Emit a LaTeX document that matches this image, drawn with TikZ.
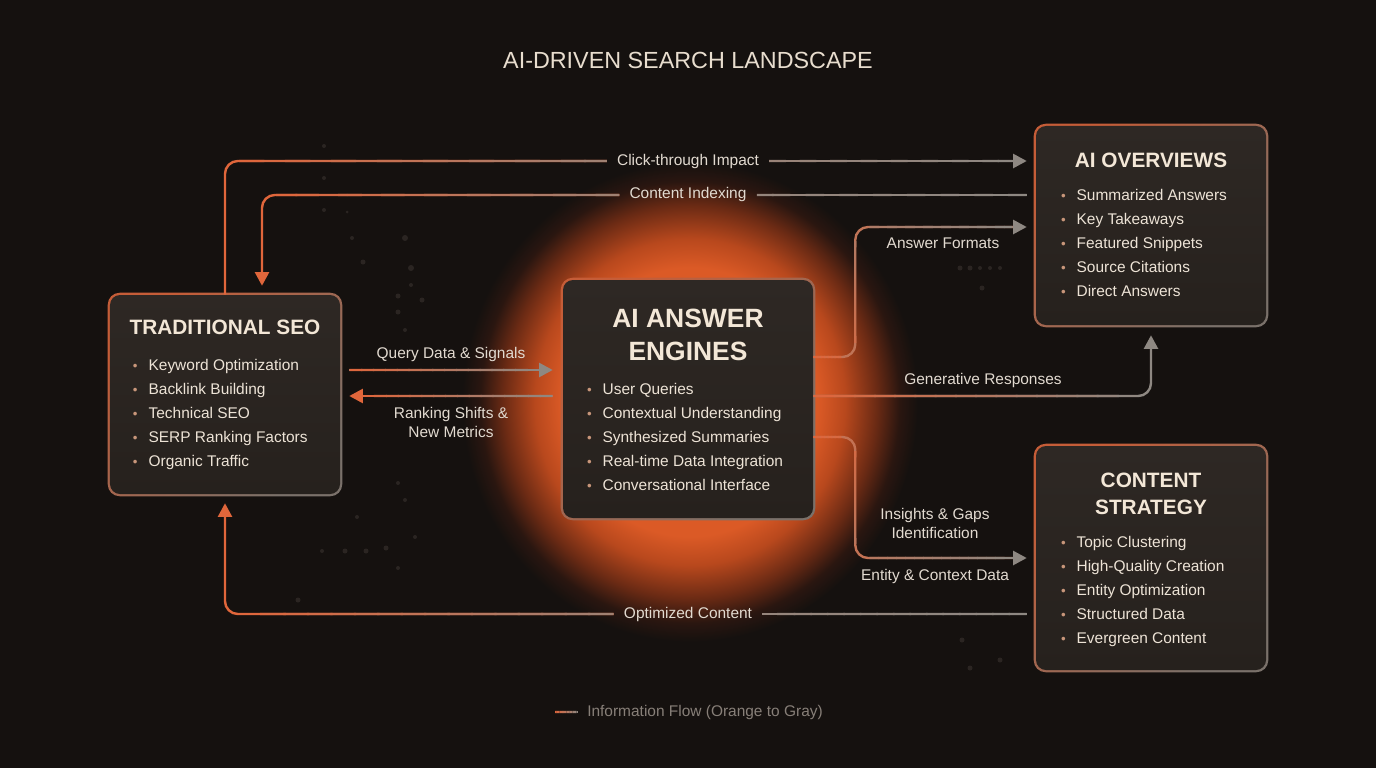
\documentclass[tikz,border=0pt]{standalone}
\usepackage{fontspec}
\setmainfont{Liberation Sans}
\usetikzlibrary{arrows.meta, calc, positioning}

\definecolor{bgc}{HTML}{15110F}
\definecolor{boxtop}{HTML}{2E2824}
\definecolor{boxbot}{HTML}{26211D}
\definecolor{orng}{HTML}{E0663B}
\definecolor{flowgray}{HTML}{8E8882}
\definecolor{rimgray}{HTML}{7A716A}
\definecolor{titlec}{HTML}{F3E7D7}
\definecolor{textc}{HTML}{EDE3D6}
\definecolor{lblc}{HTML}{E2DAD0}
\definecolor{dotc}{HTML}{C8967A}
\definecolor{legc}{HTML}{877F78}
\definecolor{speck}{HTML}{2B2522}
\definecolor{glowA}{HTML}{DB5A26}
\definecolor{glowB}{HTML}{B8481D}
\definecolor{glowC}{HTML}{6A2A14}
\definecolor{glowD}{HTML}{2A1610}

% path boundary sits at 25bp
\pgfdeclareradialshading{glow}{\pgfpoint{0bp}{0bp}}{%
  color(0bp)=(glowA); color(14bp)=(glowA); color(17bp)=(glowB);
  color(20.5bp)=(glowC); color(23bp)=(glowD); color(25bp)=(bgc); color(50bp)=(bgc)}

\pgfdeclarelayer{back}
\pgfdeclarelayer{frame}
\pgfsetlayers{back,frame,main}

% bullet in front of list items
\newcommand\bul{\makebox[3.9mm][l]{\color{dotc}\fontsize{9.5}{9.5}\selectfont\textbullet}}

% straight stretch going from orange to gray (#3, #4 = % of orange at the ends)
\newcommand\fadeline[4]{%
  \foreach \k in {0,...,15}{%
    \pgfmathtruncatemacro\fpc{#3+(#4-#3)*(\k+0.5)/16}%
    \pgfmathsetmacro\fta{\k/16}%
    \pgfmathsetmacro\ftb{min(1,(\k+1.1)/16)}%
    \draw[flow, draw=orng!\fpc!flowgray] ($(#1)!\fta!(#2)$) -- ($(#1)!\ftb!(#2)$);
  }}

\begin{document}
\begin{tikzpicture}[x=0.25mm, y=-0.25mm,
    flow/.style={line width=0.6mm, rounded corners=3.2mm},
    tipg/.style={-{Triangle[length=3.4mm, width=3.5mm, color=flowgray]}},
    tipo/.style={-{Triangle[length=3.4mm, width=3.5mm, color=orng]}},
    panel/.style={rounded corners=2.5mm, top color=boxtop, bottom color=boxbot,
                  inner sep=0pt},
    boxtitle/.style={font=\bfseries\fontsize{14.8}{18}\selectfont, text=titlec,
                     inner sep=0pt, anchor=base},
    bigtitle/.style={font=\bfseries\fontsize{18.8}{23}\selectfont, text=titlec,
                     inner sep=0pt, anchor=base},
    item/.style={font=\fontsize{11}{13}\selectfont, text=textc, inner sep=0pt,
                 anchor=base west},
    lbl/.style={font=\fontsize{11}{13.5}\selectfont, text=lblc, inner sep=0pt,
                align=center},
    gap/.style={lbl, inner xsep=2.5mm},
  ]

  %% --- background, glow and specks -----------------------------------------
  \begin{pgfonlayer}{back}
    \fill[bgc] (0,0) rectangle (1376,768);
    \shade[shading=glow] (690,402) ellipse [x radius=57mm, y radius=60mm];
    \foreach \x/\y/\r in {324/146/2, 324/178/2, 347/195/1.5, 347/212/1.5, 324/210/2,
                          405/238/3, 411/268/3, 398/296/2.5, 422/300/2.5, 363/262/2.5,
                          352/238/2, 411/285/2, 398/312/2.5, 405/330/2,
                          398/483/2, 405/500/2, 357/517/2, 386/548/2.5, 366/551/2.5,
                          345/551/2.5, 322/551/2, 415/537/2, 398/568/2, 298/600/2.5,
                          960/268/2.5, 970/268/2.5, 980/268/2, 990/268/2, 1000/268/2,
                          982/288/2.5, 968/516/2.5, 978/516/3,
                          962/640/2.5, 970/668/2.5, 1000/660/2.5}
      \fill[speck] (\x,\y) circle [radius=\r*0.25mm];
  \end{pgfonlayer}
  \useasboundingbox (0,0) rectangle (1376,768);

  \node[font=\fontsize{16.6}{20}\selectfont, text=titlec!90!gray, inner sep=0pt,
        anchor=base] (title) at (688,68.5) {AI-DRIVEN SEARCH LANDSCAPE};

  %% --- panels --------------------------------------------------------------
  \node[panel, minimum width=57.5mm, minimum height=49.75mm] (seo)      at (225,394.5) {};
  \node[panel, minimum width=62.5mm, minimum height=59.5mm]  (engine)   at (688,399)   {};
  \node[panel, minimum width=57.5mm, minimum height=49.75mm] (overview) at (1151,225.5) {};
  \node[panel, minimum width=57.5mm, minimum height=56mm]    (strategy) at (1151,558)  {};

  \begin{pgfonlayer}{frame}
    \foreach \bx in {seo, engine, overview, strategy}
      \shade[rounded corners=3mm, top color=orng!85!boxtop, bottom color=rimgray,
             shading angle=45]
        ($(\bx.north west)+(-2,-2)$) rectangle ($(\bx.south east)+(2,2)$);
  \end{pgfonlayer}

  %% --- panel titles --------------------------------------------------------
  \node[boxtitle] (seo-title)       at ($(seo.north)+(0,40)$)      {TRADITIONAL SEO};
  \node[bigtitle] (engine-title1)   at ($(engine.north)+(0,48)$)   {AI ANSWER};
  \node[bigtitle] (engine-title2)   at ($(engine.north)+(0,81)$)   {ENGINES};
  \node[boxtitle] (overview-title)  at ($(overview.north)+(0,42)$) {AI OVERVIEWS};
  \node[boxtitle] (strategy-title1) at ($(strategy.north)+(0,42)$) {CONTENT};
  \node[boxtitle] (strategy-title2) at ($(strategy.north)+(0,69)$) {STRATEGY};

  %% --- panel lists ---------------------------------------------------------
  \foreach \t [count=\i] in {Keyword Optimization, Backlink Building, Technical SEO,
                             SERP Ranking Factors, Organic Traffic}
    \node[item] (seo-\i) at ($(seo.north west)+(23,{75.5+24*(\i-1)})$) {\bul\t};
  \foreach \t [count=\i] in {User Queries, Contextual Understanding, Synthesized Summaries,
                             Real-time Data Integration, Conversational Interface}
    \node[item] (engine-\i) at ($(engine.north west)+(24,{114.5+24*(\i-1)})$) {\bul\t};
  \foreach \t [count=\i] in {Summarized Answers, Key Takeaways, Featured Snippets,
                             Source Citations, Direct Answers}
    \node[item] (overview-\i) at ($(overview.north west)+(25,{75+24*(\i-1)})$) {\bul\t};
  \foreach \t [count=\i] in {Topic Clustering, High-Quality Creation, Entity Optimization,
                             Structured Data, Evergreen Content}
    \node[item] (strategy-\i) at ($(strategy.north west)+(25,{102+24*(\i-1)})$) {\bul\t};

  %% --- connector labels ----------------------------------------------------
  \node[gap] (l-click)   at (688,161)   {Click-through Impact};
  \node[gap] (l-index)   at (688,195)   {Content Indexing};
  \node[gap] (l-opt)     at (688,614)   {Optimized Content};
  \node[lbl] (l-formats) at (943,243)   {Answer Formats};
  \node[lbl] (l-gen)     at (983,380)   {Generative Responses};
  \node[lbl] (l-insight) at (935,523.5) {Insights \& Gaps\\Identification};
  \node[lbl] (l-entity)  at (935,576)   {Entity \& Context Data};
  \node[lbl] (l-query)   at (451,354)   {Query Data \& Signals};
  \node[lbl] (l-rank)    at (451,422.5) {Ranking Shifts \&\\New Metrics};

  %% --- connectors ----------------------------------------------------------
  % seo -> overview (click-through)
  \coordinate (k1) at ($(seo.north |- l-click)+(14,0)$);
  \coordinate (t1) at ($(overview.west |- l-click)+(-9,0)$);
  \coordinate (e1) at ($(t1)+(-14,0)$);
  \draw[flow, draw=orng] (seo.north) |- (l-click.west);
  \fadeline{k1}{l-click.west}{100}{20}
  \draw[flow, draw=flowgray, tipg] (l-click.east) -- (t1);
  \fadeline{l-click.east}{e1}{15}{0}

  % overview -> seo (indexing)
  \coordinate (s2) at ($(overview.west |- l-index)+(-9,0)$);
  \coordinate (k2) at ($(seo.north |- l-index)+(51,0)$);
  \coordinate (t2) at ($(seo.north)+(37,-9)$);
  \draw[flow, draw=flowgray] (s2) -- (l-index.east);
  \fadeline{s2}{l-index.east}{0}{10}
  \draw[flow, draw=orng, tipo] (l-index.west) -| (t2);
  \fadeline{l-index.west}{k2}{20}{100}

  % engine -> overview (answer formats)
  \coordinate (s3) at ($(engine.east)+(0,-42)$);
  \coordinate (c3) at ($(s3)+(42,0)$);
  \coordinate (t3) at ($(overview.west)+(-9,1.5)$);
  \coordinate (s3a) at ($(c3)+(-14,0)$);
  \coordinate (v3a) at ($(c3)+(0,-14)$);
  \coordinate (v3b) at ($(c3 |- t3)+(0,14)$);
  \coordinate (h3a) at ($(c3 |- t3)+(14,0)$);
  \coordinate (h3b) at ($(t3)+(-14,0)$);
  \draw[flow, draw=orng!60!flowgray, tipg] (s3) -- (c3) |- (t3);
  \fadeline{s3}{s3a}{100}{90}
  \fadeline{v3a}{v3b}{80}{45}
  \fadeline{h3a}{h3b}{40}{0}

  % engine -> overview (generative responses)
  \coordinate (s4) at ($(engine.east)+(0,-3)$);
  \coordinate (t4) at ($(overview.south)+(0,10)$);
  \coordinate (e4) at ($(s4 -| t4)+(-14,0)$);
  \draw[flow, draw=flowgray, tipg] (s4) -| (t4);
  \fadeline{s4}{e4}{100}{0}

  % engine -> strategy (insights)
  \coordinate (s5) at ($(engine.east)+(0,38)$);
  \coordinate (c5) at ($(s5)+(42,0)$);
  \coordinate (t5) at ($(strategy.west)+(-9,0)$);
  \coordinate (s5a) at ($(c5)+(-14,0)$);
  \coordinate (v5a) at ($(c5)+(0,14)$);
  \coordinate (v5b) at ($(c5 |- t5)+(0,-14)$);
  \coordinate (h5a) at ($(c5 |- t5)+(14,0)$);
  \coordinate (h5b) at ($(t5)+(-14,0)$);
  \draw[flow, draw=orng!65!flowgray, tipg] (s5) -- (c5) |- (t5);
  \fadeline{s5}{s5a}{100}{90}
  \fadeline{v5a}{v5b}{85}{55}
  \fadeline{h5a}{h5b}{50}{0}

  % strategy -> seo (optimized content)
  \coordinate (s6) at ($(strategy.west |- l-opt)+(-9,0)$);
  \coordinate (k6) at ($(seo.south |- l-opt)+(14,0)$);
  \coordinate (t6) at ($(seo.south)+(0,9)$);
  \draw[flow, draw=flowgray] (s6) -- (l-opt.east);
  \fadeline{s6}{l-opt.east}{0}{10}
  \draw[flow, draw=orng, tipo] (l-opt.west) -| (t6);
  \fadeline{l-opt.west}{k6}{20}{100}

  % seo <-> engine
  \coordinate (s7) at ($(seo.east)+(9,-24.5)$);
  \coordinate (t7) at ($(s7 -| engine.west)+(-10,0)$);
  \coordinate (e7) at ($(t7)+(-14,0)$);
  \draw[flow, draw=flowgray, tipg] (s7) -- (t7);
  \fadeline{s7}{e7}{100}{0}

  \coordinate (s8) at ($(engine.west)+(-10,-3)$);
  \coordinate (t8) at ($(s8 -| seo.east)+(9,0)$);
  \coordinate (e8) at ($(t8)+(14,0)$);
  \draw[flow, draw=orng, tipo] (s8) -- (t8);
  \fadeline{s8}{e8}{0}{100}

  %% --- legend --------------------------------------------------------------
  \node[lbl, text=legc, anchor=west] (legend) at (587,712)
    {Information Flow (Orange to Gray)};
  \coordinate (leg-a) at ($(legend.west)+(-32,0)$);
  \coordinate (leg-b) at ($(legend.west)+(-9,0)$);
  \fadeline{leg-a}{leg-b}{100}{0}

\end{tikzpicture}
\end{document}
